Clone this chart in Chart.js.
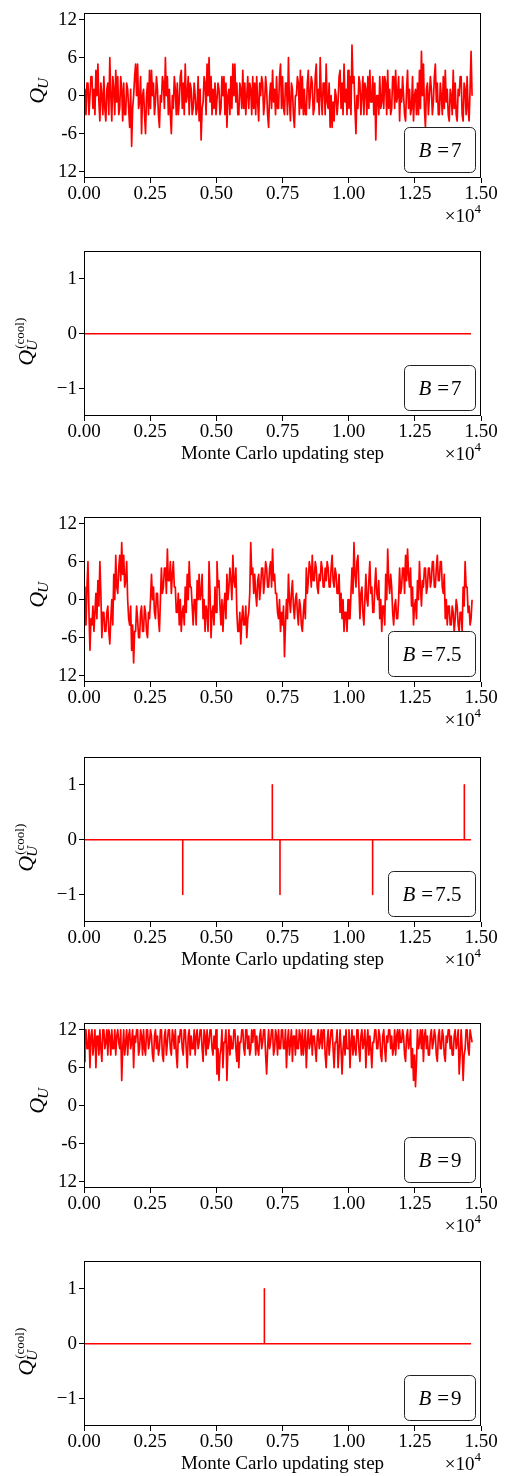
<!DOCTYPE html>
<html>
<head>
<meta charset="utf-8">
<script src="https://cdn.jsdelivr.net/npm/chart.js@4"></script>
<style>
  html, body { margin: 0; padding: 0; background: #fff; }
  #wrap { position: relative; width: 505px; height: 1476px; overflow: hidden; }
  #wrap canvas { position: absolute; left: 0; }
</style>
</head>
<body>
<div id="wrap"></div>
<script>
// Monte Carlo steps between two samples
const STEP = 75;

// Q_U history, B = 7 (one reading per sample)
const qB7 = [
  1, -3, 2, 0, 3, 1, 4, 5, -4, 0,
  3, -4, 2, 6, -4, 1, 4, 3, -2, 1,
  2, -3, 1, -5, -8, 0, 5, 5, -1, -6,
  1, -6, 2, 4, 4, 2, -1, 1, -5, -1,
  2, 6, 3, 1, -6, -2, 1, 2, -1, 4,
  2, 5, 0, -3, 1, -2, 0, -2, -4, -7,
  -1, 2, 5, 6, 3, 1, 2, -3, 1, -2,
  0, -3, -5, 1, 3, 5, 5, 2, -3, 1,
  4, 2, 0, -2, 1, 3, 2, 3, -4, 0,
  2, -1, 1, -5, 2, 4, 1, 3, -2, 5,
  3, -3, 2, 6, -4, 1, -5, 0, 2, 4,
  3, 1, -3, 4, 0, 2, -2, 5, 1, 6,
  -3, 2, 5, -2, -5, -5, -4, 0, -1, 4,
  2, 5, 1, 4, 3, 8, 3, -6, -2, 2,
  0, -3, 1, 3, 4, -1, -3, -7, 0, 3,
  -1, -2, 2, 4, 1, -2, 3, 4, 0, -4,
  -1, 0, -4, 4, 1, -2, -4, 1, 2, 4,
  7, 5, -5, 2, 0, 1, -1, 5, 2, -3,
  0, 3, 4, 1, -4, 0, 4, 2, -4, 0,
  3, -4, 1, 3, -4, 7
];
// half a sample later (other edge of the same pixel column)
const qB7Mid = [
  -2, 2, -3, 3, -2, -3, 0, -1, 2, -3,
  -2, 1, -3, 0, 3, -3, -1, -3, 3, -4,
  -3, 2, -2, 1, -2, 3, 0, -2, 3, 0,
  -3, 0, -3, -2, 0, -3, 3, -3, 0, 3,
  -2, 0, -3, -3, 0, 3, -3, -3, 3, -2,
  -3, -1, 3, 2, -3, 2, -3, 3, 1, -2,
  3, -3, 0, -1, -3, -2, -3, 2, -3, 3,
  3, 2, 0, -3, -2, 0, -1, -3, 2, -2,
  -2, -3, 3, 2, -3, -2, -3, -1, 2, 3,
  -3, 3, -3, 0, -2, -1, -3, -2, 3, -2,
  -2, 2, -3, -1, 2, -3, 0, 3, -3, -2,
  -3, -3, 2, -2, 3, -3, 3, -1, -3, 0,
  2, -3, -1, 2, 0, -1, 1, -3, 3, -2,
  -3, -1, -3, -2, -3, 2, -2, 0, 3, -3,
  3, 2, -3, -2, -1, 3, 2, 0, -3, -2,
  3, 3, -3, -2, -3, 3, -2, -1, 3, 1,
  3, -3, 1, -2, -3, 3, 0, -3, -3, -2,
  0, -2, 1, -3, 3, -3, 3, -1, -3, 2,
  -3, -2, -1, -3, 1, -3, -2, -3, 1, 3,
  -3, 2, -3, -2, 1, 0
];

// Q_U history, B = 7.5
const qB75 = [
  2, -4, 6, -8, -4, -5, 1, 3, 6, -6,
  -2, -5, -1, -7, 0, 4, 7, 1, 7, 9,
  7, 3, 0, -4, -8, -10, -5, -3, -6, -1,
  -5, -2, -6, -3, 4, 2, -3, 1, -5, 5,
  2, 5, 8, 3, 1, 6, 2, -2, -4, -5,
  -1, 2, 4, 6, 2, -4, 0, 3, 4, 1,
  -3, -5, -2, 6, -6, -1, 2, 6, 3, -4,
  -5, 1, 4, 2, 3, 7, 2, -2, -5, -7,
  -1, -4, -6, -2, 9, 5, 4, -1, 4, 2,
  5, 3, 5, 2, 6, 8, 4, 1, -3, -5,
  -4, -9, 0, 4, -2, 3, -3, 1, -4, -1,
  -5, 0, 5, 3, 5, 7, 3, 5, 1, 3,
  5, 2, 3, 5, 2, 7, 2, 4, 1, -2,
  -3, -5, -2, 0, -3, 5, 9, 2, 7, -3,
  2, -4, 4, -1, 6, 2, -2, 5, 0, -3,
  -5, -1, 4, 8, 1, 2, -4, 0, -3, 5,
  2, 5, 7, 8, 2, -1, -4, 0, 3, 6,
  -1, 2, 5, 2, 5, 3, 6, 2, 7, 3,
  6, 1, -3, -4, -1, -4, -2, -3, -1, -5,
  -2, 2, 6, 2, -1, -3
];
const qB75Mid = [
  -3, 2, -2, -3, -1, -2, -3, -1, 1, -2,
  -5, -2, -5, -3, -4, 0, 2, 5, 3, 4,
  2, 6, -3, -1, -4, -5, -1, -6, -2, -5,
  -1, -5, -2, 0, 0, -2, 1, -3, 0, 1,
  5, 1, 3, 6, 4, 2, -2, 1, 0, -2,
  -4, -2, 0, 2, -1, 0, -4, 0, 0, 4,
  0, -1, -5, 1, -2, -4, -2, 2, -1, 0,
  -1, -3, 0, 5, 0, 3, 5, -5, -2, -3,
  -4, -1, -3, 1, 4, 1, 1, 3, 0, 5,
  1, 6, 2, 5, 2, 3, 1, -2, 0, -2,
  -1, -4, -3, 0, 1, -1, 0, -2, 0, -4,
  -2, -3, 1, 6, 2, 3, 6, 2, 4, 6,
  2, 5, 6, 2, 5, 3, 5, 1, 4, 1,
  0, -2, -5, -3, 1, 1, 4, 6, 2, 1,
  -2, 0, 0, 3, 1, -2, 2, 1, 3, 0,
  -1, -4, 0, 3, 4, -2, -1, -3, 0, 1,
  5, 1, 3, 4, 5, 2, -1, -3, 0, 2,
  3, 5, 1, 5, 2, 6, 2, 5, 3, 6,
  2, 4, 0, -1, -4, -1, -5, 0, -4, -2,
  -5, -1, 2, -2, -4, 0
];

// Q_U history, B = 9
const qB9 = [
  7, 12, 9, 6, 12, 10, 6, 11, 12, 7,
  12, 10, 8, 11, 12, 9, 8, 12, 9, 4,
  12, 10, 8, 12, 10, 6, 10, 12, 9, 11,
  12, 8, 12, 10, 11, 7, 12, 11, 9, 12,
  7, 12, 10, 12, 8, 11, 12, 6, 10, 12,
  8, 12, 6, 12, 11, 9, 8, 12, 10, 12,
  7, 11, 12, 10, 12, 8, 9, 5, 4, 9,
  6, 10, 4, 12, 11, 9, 12, 7, 6, 10,
  12, 8, 12, 11, 9, 10, 12, 11, 8, 12,
  10, 12, 5, 12, 10, 12, 9, 11, 12, 9,
  12, 9, 6, 12, 10, 7, 11, 12, 9, 11,
  12, 10, 6, 12, 10, 8, 11, 7, 12, 10,
  9, 12, 6, 12, 10, 12, 6, 10, 6, 12,
  5, 11, 12, 9, 6, 12, 11, 8, 12, 7,
  12, 10, 6, 12, 11, 6, 10, 12, 9, 11,
  7, 12, 7, 10, 12, 11, 9, 8, 12, 12,
  10, 11, 7, 12, 10, 6, 4, 3, 12, 10,
  9, 7, 12, 11, 8, 12, 10, 11, 7, 12,
  9, 11, 7, 10, 12, 11, 8, 12, 10, 5,
  12, 4, 9, 12, 8, 11
];
const qB9Mid = [
  12, 9, 12, 11, 8, 12, 11, 8, 9, 12,
  9, 12, 12, 8, 9, 12, 11, 10, 12, 9,
  8, 12, 11, 9, 12, 11, 12, 8, 12, 8,
  9, 12, 9, 12, 8, 11, 9, 8, 12, 8,
  11, 8, 12, 9, 12, 9, 8, 11, 12, 9,
  12, 9, 11, 8, 9, 12, 11, 9, 12, 9,
  12, 8, 9, 12, 9, 11, 12, 9, 8, 12,
  10, 12, 9, 8, 9, 12, 9, 11, 10, 12,
  9, 12, 9, 8, 12, 12, 8, 9, 11, 9,
  12, 8, 9, 9, 12, 8, 12, 8, 9, 12,
  9, 12, 10, 8, 12, 11, 8, 9, 12, 8,
  8, 12, 10, 9, 12, 11, 9, 11, 9, 12,
  12, 8, 10, 8, 12, 9, 10, 12, 9, 9,
  9, 8, 9, 12, 10, 8, 9, 12, 9, 11,
  9, 12, 10, 8, 9, 10, 12, 9, 12, 8,
  11, 9, 11, 12, 9, 8, 12, 11, 9, 10,
  12, 8, 11, 9, 12, 9, 8, 7, 9, 12,
  12, 11, 9, 8, 11, 9, 12, 8, 11, 9,
  12, 8, 11, 12, 9, 8, 11, 9, 12, 8,
  9, 8, 12, 9, 12, 10
];

// cooled charge: zero except short jumps at these steps
const coolB7Steps = [];
const coolB7Vals = [];
const coolB75Steps = [3730, 7115, 7405, 10905, 14370];
const coolB75Vals = [-1, 1, -1, -1, 1];
const coolB9Steps = [6815];
const coolB9Vals = [1];
const lastStep = 14625;

const xTicks = [0, 2500, 5000, 7500, 10000, 12500, 15000];
const xTickLabels = ['0.00', '0.25', '0.50', '0.75', '1.00', '1.25', '1.50'];
const qTicks = [-12, -6, 0, 6, 12];
const qTickLabels = ['12', '-6', '0', '6', '12'];
const coolTicks = [-1, 0, 1];
const coolTickLabels = ['\u22121', '0', '1'];
const bValues = ['7', '7.5', '9'];

const SERIF = '"Liberation Serif", "Times New Roman", serif';
const RED = '#ff0000';

function qPoints(vals, mid) {
  const pts = [];
  vals.forEach((v, i) => {
    pts.push({ x: i * STEP, y: v }, { x: i * STEP + STEP / 2, y: mid[i] });
  });
  return pts;
}

function coolPoints(steps, vals) {
  const pts = [{ x: 0, y: 0 }];
  steps.forEach((s, k) => {
    pts.push({ x: s, y: 0 }, { x: s, y: vals[k] }, { x: s + 1, y: 0 });
  });
  pts.push({ x: lastStep, y: 0 });
  return pts;
}

function drawRoundRect(ctx, x, y, w, h, r) {
  ctx.beginPath();
  ctx.moveTo(x + r, y);
  ctx.lineTo(x + w - r, y);
  ctx.arcTo(x + w, y, x + w, y + r, r);
  ctx.lineTo(x + w, y + h - r);
  ctx.arcTo(x + w, y + h, x + w - r, y + h, r);
  ctx.lineTo(x + r, y + h);
  ctx.arcTo(x, y + h, x, y + h - r, r);
  ctx.lineTo(x, y + r);
  ctx.arcTo(x, y, x + r, y, r);
  ctx.closePath();
}

// frame, axis labels, x10^4 and the B box
const deco = {
  id: 'deco',
  afterDraw(chart, args, o) {
    const ctx = chart.ctx;
    const a = chart.chartArea;
    ctx.save();

    // frame
    const x0 = Math.round(a.left) + 0.5, x1 = Math.round(a.right) - 0.5;
    const y0 = Math.round(a.top) + 0.5, y1 = Math.round(a.bottom) - 0.5;
    ctx.strokeStyle = '#000';
    ctx.lineWidth = 1;
    ctx.strokeRect(x0, y0, x1 - x0, y1 - y0);

    // B box
    const fs = 21;
    ctx.font = `italic ${fs}px ${SERIF}`;
    const wB = ctx.measureText('B').width;
    ctx.font = `${fs}px ${SERIF}`;
    const wEq = ctx.measureText('=').width;
    const wV = ctx.measureText(o.b).width;
    const g1 = 6, g2 = 2;
    const tw = wB + g1 + wEq + g2 + wV;
    const bw = Math.round(tw + 28), bh = 45;
    const bx = Math.round(a.right - 6 - bw) + 0.5, by = Math.round(a.bottom - 6 - bh) + 0.5;
    drawRoundRect(ctx, bx, by, bw, bh, 5);
    ctx.fillStyle = '#fff';
    ctx.fill();
    ctx.strokeStyle = '#222';
    ctx.stroke();
    ctx.fillStyle = '#000';
    ctx.textBaseline = 'alphabetic';
    ctx.textAlign = 'left';
    let tx = bx + (bw - tw) / 2;
    const ty = by + bh / 2 + 7;
    ctx.font = `italic ${fs}px ${SERIF}`;
    ctx.fillText('B', tx, ty);
    tx += wB + g1;
    ctx.font = `${fs}px ${SERIF}`;
    ctx.fillText('=', tx, ty);
    tx += wEq + g2;
    ctx.fillText(o.b, tx, ty);

    // x10^4 and x title
    const base = a.bottom + 43.5;
    ctx.textAlign = 'right';
    ctx.font = `13px ${SERIF}`;
    const w4 = ctx.measureText('4').width;
    ctx.fillText('4', a.right, base - 9);
    ctx.font = `19px ${SERIF}`;
    ctx.fillText('\u00d710', a.right - w4, base);
    if (o.xTitle) {
      ctx.textAlign = 'center';
      ctx.fillText('Monte Carlo updating step', (a.left + a.right) / 2, base - 1);
    }

    // y title
    const cy = (a.top + a.bottom) / 2;
    ctx.textAlign = 'left';
    if (o.kind === 'q') {
      ctx.translate(44, cy + 8);
      ctx.rotate(-Math.PI / 2);
      ctx.font = `italic 22px ${SERIF}`;
      ctx.fillText('Q', 0, 0);
      const wQ = ctx.measureText('Q').width;
      ctx.font = `italic 15px ${SERIF}`;
      ctx.fillText('U', wQ - 1, 4);
    } else {
      ctx.translate(33, cy + 32);
      ctx.rotate(-Math.PI / 2);
      ctx.font = `italic 22px ${SERIF}`;
      ctx.fillText('Q', 0, 0);
      const wQ = ctx.measureText('Q').width;
      ctx.font = `italic 15px ${SERIF}`;
      ctx.fillText('U', wQ - 1, 4);
      ctx.font = `13px ${SERIF}`;
      ctx.fillText('(cool)', wQ + 1, -9);
    }
    ctx.restore();
  }
};

const panels = [
  { top: 10, kind: 'q', data: qPoints(qB7, qB7Mid), b: bValues[0], xTitle: false },
  { top: 248, kind: 'cool', data: coolPoints(coolB7Steps, coolB7Vals), b: bValues[0], xTitle: true },
  { top: 514, kind: 'q', data: qPoints(qB75, qB75Mid), b: bValues[1], xTitle: false },
  { top: 754, kind: 'cool', data: coolPoints(coolB75Steps, coolB75Vals), b: bValues[1], xTitle: true },
  { top: 1020, kind: 'q', data: qPoints(qB9, qB9Mid), b: bValues[2], xTitle: false },
  { top: 1258, kind: 'cool', data: coolPoints(coolB9Steps, coolB9Vals), b: bValues[2], xTitle: true }
];

const CANVAS_H = 240, PLOT_H = 168, X_AXIS_H = 30;
const tickFont = { family: SERIF, size: 19 };

panels.forEach(p => {
  const canvas = document.createElement('canvas');
  canvas.width = 505;
  canvas.height = CANVAS_H;
  canvas.style.top = (p.top - 10) + 'px';
  document.getElementById('wrap').appendChild(canvas);

  const isQ = p.kind === 'q';
  const yTicks = isQ ? qTicks : coolTicks;
  const yLabels = isQ ? qTickLabels : coolTickLabels;

  new Chart(canvas, {
    type: 'line',
    data: {
      datasets: [{
        data: p.data,
        borderColor: RED,
        borderWidth: isQ ? 1.7 : 1.6,
        pointRadius: 0,
        tension: 0,
        fill: false,
        borderJoinStyle: 'round'
      }]
    },
    options: {
      responsive: false,
      animation: false,
      devicePixelRatio: 1,
      layout: { padding: { top: 10, right: 24, left: 0, bottom: CANVAS_H - 10 - PLOT_H - X_AXIS_H } },
      plugins: {
        legend: { display: false },
        tooltip: { enabled: false },
        deco: { kind: p.kind, b: p.b, xTitle: p.xTitle }
      },
      scales: {
        x: {
          type: 'linear',
          min: 0,
          max: 15000,
          afterBuildTicks: s => { s.ticks = xTicks.map(v => ({ value: v })); },
          afterFit: s => { s.height = X_AXIS_H; },
          ticks: {
            callback: v => xTickLabels[xTicks.indexOf(v)],
            font: tickFont,
            color: '#000',
            padding: 0,
            maxRotation: 0,
            autoSkip: false
          },
          grid: { drawOnChartArea: false, drawTicks: true, tickLength: 5, color: '#000' },
          border: { display: false }
        },
        y: {
          type: 'linear',
          min: isQ ? -13 : -1.5,
          max: isQ ? 13 : 1.5,
          afterBuildTicks: s => { s.ticks = yTicks.map(v => ({ value: v })); },
          afterFit: s => { s.width = 84; },
          ticks: {
            callback: v => yLabels[yTicks.indexOf(v)],
            font: tickFont,
            color: '#000',
            padding: 2,
            autoSkip: false
          },
          grid: { drawOnChartArea: false, drawTicks: true, tickLength: 5, color: '#000' },
          border: { display: false }
        }
      }
    },
    plugins: [deco]
  });
});
</script>
</body>
</html>
